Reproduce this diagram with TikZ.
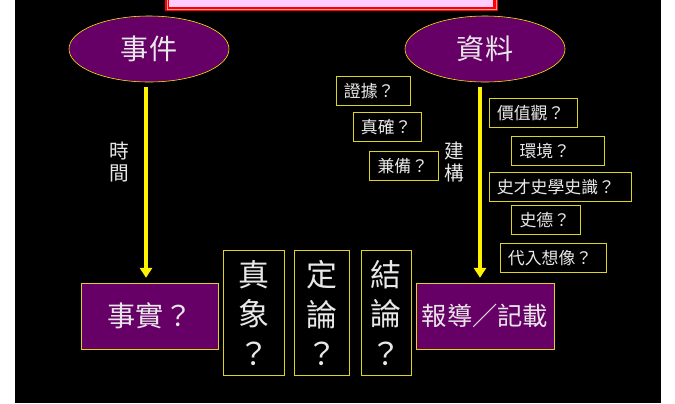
\documentclass[tikz,border=0pt]{standalone}
\usepackage{fontspec}
\setmainfont{Noto Sans CJK TC}
\usetikzlibrary{arrows.meta,shapes.geometric}
\definecolor{plum}{HTML}{660066}
\definecolor{titlepink}{HTML}{FFCCFF}
\definecolor{softwhite}{HTML}{E8E8E8}
\tikzset{
  oval/.style={ellipse, draw=yellow, fill=plum, text=softwhite, inner sep=0pt, minimum width=4cm, minimum height=1.65cm, font=\fontsize{20pt}{24pt}\selectfont},
  bigbox/.style={draw=yellow!85!black, fill=plum, text=softwhite, minimum width=3.425cm, minimum height=1.65cm},
  tallbox/.style={draw=yellow!85!black, text=softwhite, minimum height=3.125cm, align=center, font=\fontsize{22pt}{28pt}\selectfont},
  qbox/.style={draw=yellow!85!black, text=softwhite, inner xsep=0.2cm, minimum height=0.725cm, align=left, font=\fontsize{12pt}{14pt}\selectfont},
  vlabel/.style={text=softwhite, align=center, font=\fontsize{14pt}{15pt}\selectfont},
  flow/.style={yellow, line width=2.8pt, -{Triangle[width=8.5pt,length=7pt]}, shorten <=3.5pt, shorten >=3.5pt}
}
\begin{document}
\begin{tikzpicture}[x=0.025cm,y=-0.025cm]
  \useasboundingbox (0,0) rectangle (675,403);
  \fill[white] (0,0) rectangle (675,403);
  \fill[black] (15,0) rectangle (661,403);
  % title box, cut at the top
  \fill[red] (165,-10) rectangle (498,11);
  \draw[red!40!white, line width=0.5pt] (167,-10) -- (167,9) -- (496,9) -- (496,-10);
  \fill[titlepink] (169,-10) rectangle (493,7);
  % top ovals
  \node[oval] (event) at (149,49) {事件};
  \node[oval] (source) at (485,49) {資料};
  % bottom row
  \node[bigbox, font=\fontsize{20pt}{24pt}\selectfont] (fact) at (150,316) {事實？};
  \node[tallbox, minimum width=1.525cm] (truth) at (254,313) {真\\象\\？};
  \node[tallbox, minimum width=1.375cm] (verdict) at (322,313) {定\\論\\？};
  \node[tallbox, minimum width=1.25cm] (concl) at (386,313) {結\\論\\？};
  \node[bigbox, minimum width=3.45cm, font=\fontsize{18pt}{22pt}\selectfont] (record) at (485,316) {報導／記載};
  % arrows
  \draw[flow] (event.south -| 146,0) -- (146,0 |- fact.north);
  \draw[flow] (source.south -| 480,0) -- (480,0 |- record.north);
  \node[vlabel] (timelbl) at (119,162) {時\\間};
  \node[vlabel] (buildlbl) at (454,162) {建\\構};
  % question boxes
  \node[qbox, text width=1.45cm] (proof) at (373,91) {證據？};
  \node[qbox, text width=1.3cm] (true) at (387,127) {真確？};
  \node[qbox, text width=1.325cm] (complete) at (404,166) {兼備？};
  \node[qbox, text width=1.8cm] (values) at (533,113) {價值觀？};
  \node[qbox, text width=1.925cm] (context) at (558,151) {環境？};
  \node[qbox, text width=3.15cm] (talent) at (560,187) {史才史學史識？};
  \node[qbox, text width=1.325cm] (ethic) at (546,220) {史德？};
  \node[qbox, text width=2.25cm] (imagine) at (553,258) {代入想像？};
\end{tikzpicture}
\end{document}
